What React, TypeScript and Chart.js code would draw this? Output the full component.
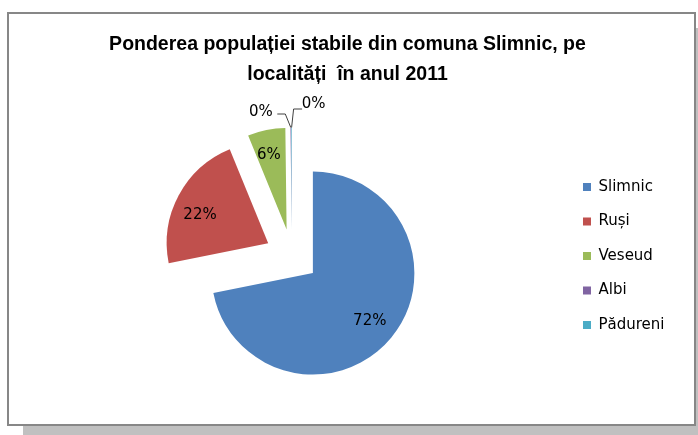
import React, { useEffect, useRef } from "react";
import { Chart, registerables } from "chart.js";

Chart.register(...registerables);

const categories = ["Slimnic", "Ruși", "Veseud", "Albi", "Pădureni"];
const shares = [72, 22, 6, 0.1, 0.1];
const colors = ["#4F81BD", "#C0504D", "#9BBB59", "#8064A2", "#4BACC6"];
const titleLines = [
  "Ponderea populației stabile din comuna Slimnic, pe",
  "localități  în anul 2011",
];

const EXPLODE = 27;
const LABEL_FACTOR = [0.725, 0.74, 0.78];
const LABEL_NUDGE = [
  [0, 1],
  [-2, 7],
  [-2, 3],
];
// offsets for the labels of near-zero slices, relative to the slice tip
const ZERO_LABELS = [
  { lx: -30, ly: -15, path: [[-13.5, -13.5], [-5.5, -13.5], [0, 0]] },
  { lx: 22, ly: -23, path: [[10.5, -18.5], [2, -18.5], [0, 0]] },
];

const explodePlugin = {
  id: "explodePie",
  beforeDatasetsDraw(chart: any) {
    const ctx: CanvasRenderingContext2D = chart.ctx;
    const meta = chart.getDatasetMeta(0);
    const data = chart.data.datasets[0].data as number[];
    const total = data.reduce((a, b) => a + b, 0);
    const geo: any[] = [];
    meta.data.forEach((arc: any) => {
      const mid = (arc.startAngle + arc.endAngle) / 2;
      const dx = Math.cos(mid) * EXPLODE;
      const dy = Math.sin(mid) * EXPLODE;
      ctx.save();
      ctx.translate(dx, dy);
      arc.draw(ctx);
      ctx.restore();
      geo.push({ vx: arc.x + dx, vy: arc.y + dy, mid, r: arc.outerRadius });
    });
    ctx.save();
    ctx.font = '15px "DejaVu Sans"';
    ctx.fillStyle = "#000";
    ctx.textAlign = "center";
    ctx.textBaseline = "middle";
    let zi = 0;
    data.forEach((v, i) => {
      const pct = Math.round((v / total) * 100);
      const g = geo[i];
      const text = pct + "%";
      if (pct === 0) {
        const z = ZERO_LABELS[zi++ % ZERO_LABELS.length];
        const tx = g.vx + Math.cos(g.mid) * g.r;
        const ty = g.vy + Math.sin(g.mid) * g.r;
        ctx.fillText(text, tx + z.lx, ty + z.ly);
        ctx.beginPath();
        z.path.forEach((p, k) => {
          if (k === 0) ctx.moveTo(tx + p[0], ty + p[1]);
          else ctx.lineTo(tx + p[0], ty + p[1]);
        });
        ctx.strokeStyle = "#404040";
        ctx.lineWidth = 1;
        ctx.stroke();
      } else {
        const f = LABEL_FACTOR[i] ?? 0.72;
        const n = LABEL_NUDGE[i] ?? [0, 0];
        ctx.fillText(
          text,
          g.vx + Math.cos(g.mid) * g.r * f + n[0],
          g.vy + Math.sin(g.mid) * g.r * f + n[1]
        );
      }
    });
    ctx.restore();
    return false;
  },
};

export default function App() {
  const ref = useRef<HTMLCanvasElement | null>(null);
  useEffect(() => {
    if (!ref.current) return;
    const chart = new Chart(ref.current, {
      type: "pie",
      data: {
        labels: categories,
        datasets: [
          {
            data: shares,
            backgroundColor: colors,
            borderWidth: 0,
            borderColor: colors,
          },
        ],
      },
      options: {
        responsive: false,
        animation: false,
        events: [],
        radius: 101.5,
        layout: { padding: { left: 11.5, right: 19.5, top: 0, bottom: 6 } },
        plugins: {
          title: {
            display: true,
            text: titleLines,
            color: "#000",
            font: { family: '"Liberation Sans"', size: 19.5, weight: "bold", lineHeight: 29.5 / 19.5 },
            padding: { top: 16, bottom: 5 },
          },
          legend: {
            display: true,
            position: "right",
            align: "center",
            fullSize: false,
            labels: {
              boxWidth: 8,
              boxHeight: 8,
              padding: 19.5,
              color: "#000",
              font: { family: '"DejaVu Sans"', size: 15 },
            },
          },
          tooltip: { enabled: false },
        },
      } as any,
      plugins: [explodePlugin],
    });
    return () => chart.destroy();
  }, []);
  return (
    <div
      style={{
        position: "absolute",
        left: 7,
        top: 12,
        width: 685,
        height: 410,
        border: "2px solid #878787",
        boxShadow: "16px 16px 0 #c0c0c0",
        background: "#fff",
      }}
    >
      <canvas ref={ref} width={685} height={410} style={{ display: "block", width: 685, height: 410 }} />
    </div>
  );
}
